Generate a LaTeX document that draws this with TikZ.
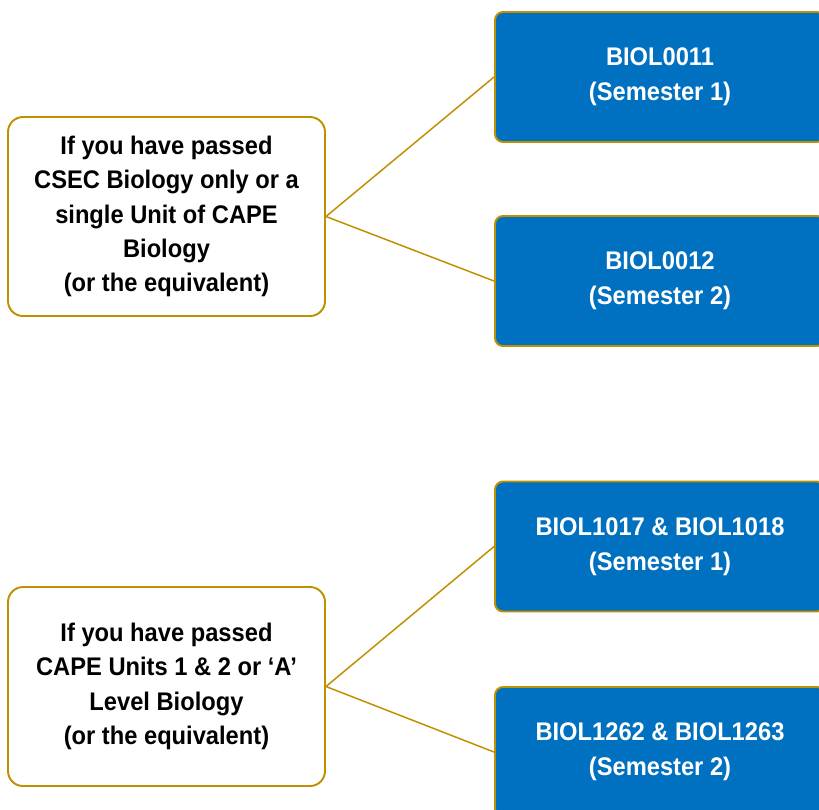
\documentclass[tikz,border=0pt]{standalone}
\usepackage{fontspec}
\setmainfont{Liberation Sans}[FakeStretch=0.93]
\usepackage{tikz}
\usetikzlibrary{positioning}
\definecolor{linegold}{HTML}{BF9000}
\definecolor{courseblue}{HTML}{0070C0}
\tikzset{ConditionBox/.style={%
    shape=rectangle,%
    draw=linegold,%
    fill=white,%
    rounded corners=0.3cm,%
    line width=1.1pt,%
    minimum width=6.34cm,%
    minimum height=3.98cm,%
    align=center,%
    font=\fontsize{14.5}{19.6}\selectfont\bfseries,%
}}
\tikzset{CourseBox/.style={%
    shape=rectangle,%
    draw=linegold,%
    fill=courseblue,%
    text=white,%
    rounded corners=0.16cm,%
    line width=1.1pt,%
    minimum width=6.6cm,%
    minimum height=2.6cm,%
    align=center,%
    font=\fontsize{14.5}{19.8}\selectfont\bfseries,%
}}
\tikzset{LinkEdge/.style={%
    -,%
    draw=linegold,%
    line width=0.85pt,%
}}
\begin{document}
\begin{tikzpicture}
    \clip (0,0) rectangle (16.38,-16.18);

    \node[ConditionBox] (csec) at (3.33,-4.33) {If you have passed\\CSEC Biology only or a\\single Unit of CAPE\\Biology\\(or the equivalent)};
    \node[ConditionBox] (cape) at (3.33,-13.73) {If you have passed\\CAPE Units 1 \& 2 or `A'\\Level Biology\\(or the equivalent)};

    \node[CourseBox] (b0011) at (13.2,-1.54) {BIOL0011\\(Semester 1)};
    \node[CourseBox] (b0012) at (13.2,-5.62) {BIOL0012\\(Semester 2)};
    \node[CourseBox] (b1017) at (13.2,-10.93) {BIOL1017 \& BIOL1018\\(Semester 1)};
    \node[CourseBox] (b1262) at (13.2,-15.04) {BIOL1262 \& BIOL1263\\(Semester 2)};

    \path (csec.east) edge[LinkEdge] (b0011.west);
    \path (csec.east) edge[LinkEdge] (b0012.west);
    \path (cape.east) edge[LinkEdge] (b1017.west);
    \path (cape.east) edge[LinkEdge] (b1262.west);
\end{tikzpicture}
\end{document}
